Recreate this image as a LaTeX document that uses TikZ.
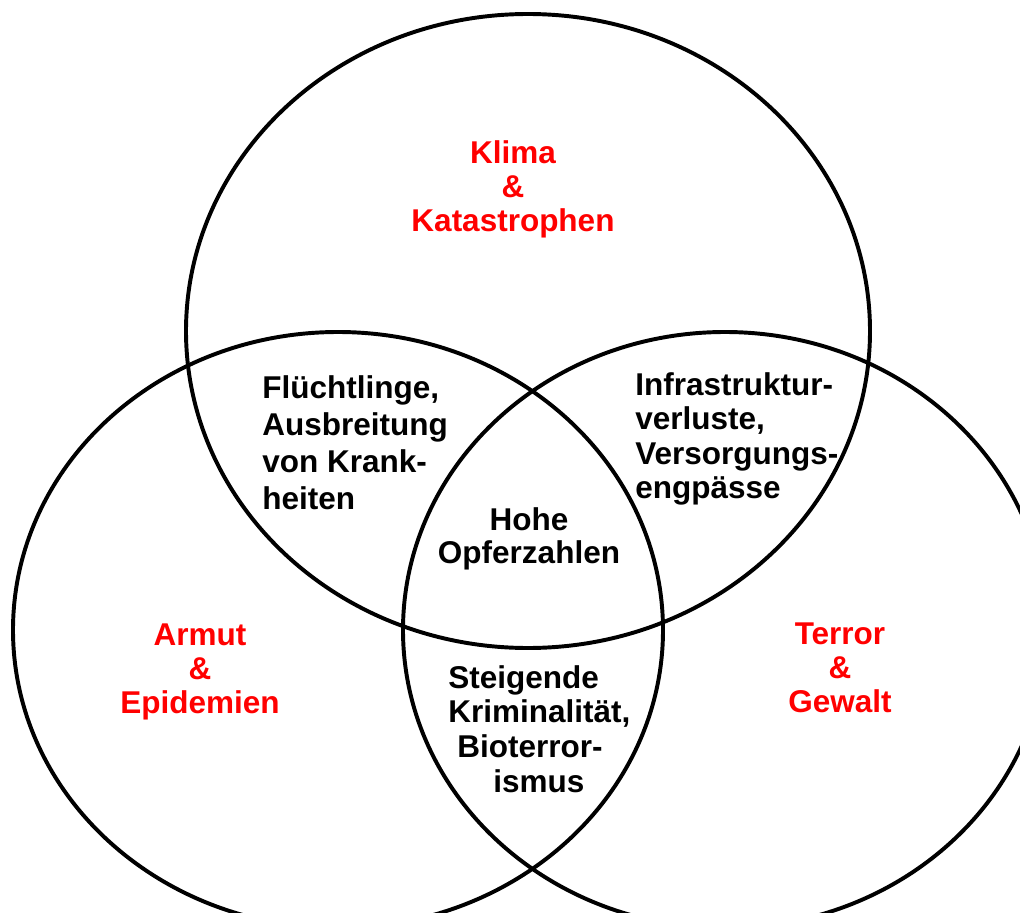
\documentclass[tikz,border=0pt]{standalone}
\usepackage{fontspec}
\setmainfont{Liberation Sans}
\usetikzlibrary{positioning}

\tikzset{
  venn/.style={line width=2.8pt},
  topic/.style={text=red, align=center, inner sep=0pt,
    font=\bfseries\fontsize{22.4}{24.2}\selectfont},
  overlap/.style={inner sep=0pt, font=\bfseries\fontsize{22.4}{26.3}\selectfont},
}

\begin{document}
\begin{tikzpicture}[x=0.025cm,y=-0.025cm]
\useasboundingbox (0,0) rectangle (1020,913);
\clip (0,0) rectangle (1020,913);
\coordinate (klima) at (528,331);
\coordinate (armut) at (338,630);
\coordinate (terror) at (725,630);

\draw[venn] (klima) ellipse (342 and 317);
\draw[venn] (armut) ellipse (325 and 298);
\draw[venn] (terror) ellipse (322 and 298);

% the three sets
\node[topic] (klimatext) at (513,189) {Klima\\\&\\Katastrophen};
\node[topic] (armuttext) at (200,672) {Armut\\\&\\Epidemien};
\node[topic] (terrortext) at (840,668) {Terror\\\&\\Gewalt};

% the overlaps
\node[overlap, align=left, anchor=west] (fluechtlinge) at (262,443)
  {Flüchtlinge,\\Ausbreitung\\von Krank-\\heiten};
\node[overlap, align=left, anchor=west, font=\bfseries\fontsize{22.4}{24.6}\selectfont]
  (infrastruktur) at (635,439) {Infrastruktur-\\verluste,\\Versorgungs-\\engpässe};
\node[overlap, align=center, font=\bfseries\fontsize{22.4}{23.4}\selectfont]
  (opfer) at (529,539) {Hohe\\Opferzahlen};
\node[overlap, align=left, anchor=west, font=\bfseries\fontsize{22.4}{24.6}\selectfont]
  (kriminalitaet) at (448,729)
  {Steigende\\Kriminalität,\\\hspace*{0.225cm}Bioterror-\\\hspace*{1.125cm}ismus};
\end{tikzpicture}
\end{document}
